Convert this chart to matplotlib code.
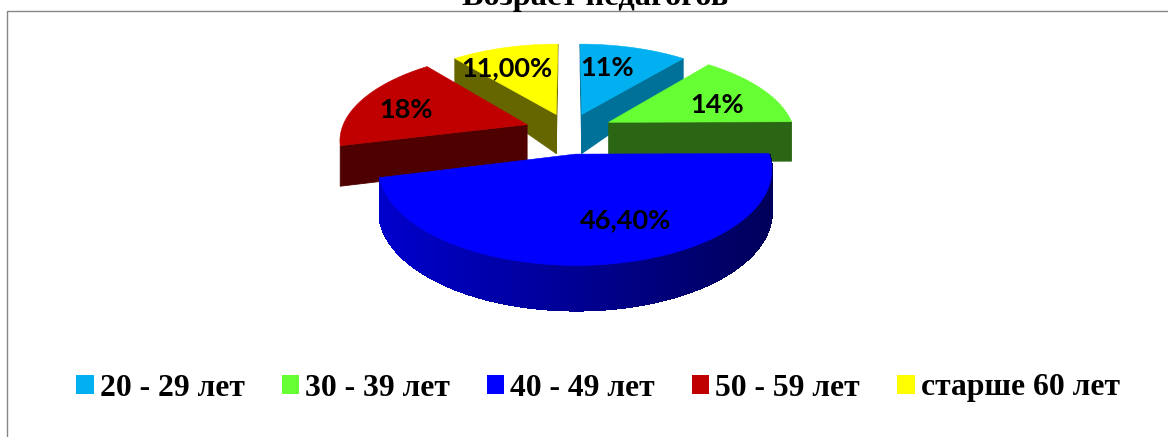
import matplotlib
matplotlib.use("Agg")
import matplotlib.pyplot as plt
from matplotlib.patches import Patch
import numpy as np

categories = ["20 - 29 лет", "30 - 39 лет", "40 - 49 лет", "50 - 59 лет", "старше 60 лет"]
values = [11, 14, 46.4, 18, 11]
value_labels = ["11%", "14%", "46,40%", "18%", "11,00%"]

top_colors = ["#00b0f0", "#66ff33", "#0000ff", "#c00000", "#ffff00"]
side_colors = ["#007198", "#2a6614", "#00008c", "#4e0000", "#666600"]

# pie geometry, in pixels
cx, cy = 569, 131
rx, ry = 186, 86
persp = 0.155
explode = [0.21, 0.24, 0.26, 0.24, 0.21]
label_pos = [(607, 68), (717, 105), (626, 220), (406, 110), (507, 68)]
draw_order = [4, 0, 3, 1, 2]


def project(u, v):
    w = 1 + persp * v
    return cx + rx * u / w, cy - ry * v / w


def depth(v):
    return np.interp(v, [-1.26, 0.2, 1.0], [45, 39, 24])


def blue_shade(x):
    # front wall of the big slice gets darker to the right
    t = np.clip((x - 378) / (770 - 378), 0, 1)
    return (0, 0, (205 - 115 * t) / 255)


fig = plt.figure(figsize=(11.68, 4.37), dpi=100)
ax = fig.add_axes([0, 0, 1, 1])
ax.set_xlim(0, 1168)
ax.set_ylim(437, 0)
ax.axis("off")

# chart frame, top and left only
ax.plot([7, 7, 1168], [437, 11, 11], color="#868686", lw=1.0, zorder=1)

total = sum(values)
edges = np.cumsum([0] + values) / total * 2 * np.pi

for i in draw_order:
    a0, a1 = edges[i], edges[i + 1]
    mid = (a0 + a1) / 2
    ou, ov = explode[i] * np.sin(mid), explode[i] * np.cos(mid)
    t = np.linspace(a0, a1, 200)
    us, vs = ou + np.sin(t), ov + np.cos(t)
    xs, ys = project(us, vs)
    ax_, ay_ = project(ou, ov)
    mx, my = project(ou + 0.6 * np.sin(mid), ov + 0.6 * np.cos(mid))

    # outer wall, only the big slice shows one
    if i == 2:
        for j in range(len(t) - 1):
            if np.cos(t[j]) < 0:
                d0, d1 = depth(vs[j]), depth(vs[j + 1])
                ax.fill([xs[j], xs[j + 1], xs[j + 1], xs[j]],
                        [ys[j], ys[j + 1], ys[j + 1] + d1, ys[j] + d0],
                        color=blue_shade(xs[j]), lw=1.0, antialiased=False, zorder=2)

    # cut faces
    for a in (a0, a1):
        eu, ev = ou + np.sin(a), ov + np.cos(a)
        ex, ey = project(eu, ev)
        if abs(ex - ax_) < 1e-6:
            continue
        line_y = ay_ + (ey - ay_) * (mx - ax_) / (ex - ax_)
        if my < line_y:
            ax.fill([ax_, ex, ex, ax_],
                    [ay_, ey, ey + depth(ev), ay_ + depth(ov)],
                    color=side_colors[i], lw=0.6, zorder=2)

    ax.fill(np.r_[ax_, xs], np.r_[ay_, ys], color=top_colors[i], lw=0.4, zorder=2)

for lab, (lx, ly) in zip(value_labels, label_pos):
    ax.text(lx, ly, lab, family="Lato", weight="bold", fontsize=19.5,
            ha="center", va="center", color="black", zorder=5)

ax.text(595, 5, "Возраст педагогов", family="Liberation Serif", weight="bold",
        fontsize=23.3, ha="center", va="baseline", color="black", zorder=5)

handles = [Patch(facecolor=c, edgecolor="none") for c in top_colors]
leg = ax.legend(handles, categories, ncols=5, loc="center", frameon=False,
                bbox_to_anchor=(598, 388), bbox_transform=ax.transData,
                prop={"family": "Liberation Serif", "weight": "bold", "size": 22.8},
                handlelength=0.54, handleheight=0.54, handletextpad=0.19,
                columnspacing=1.18, borderpad=0, borderaxespad=0)

fig.savefig("out.png", dpi=100)
